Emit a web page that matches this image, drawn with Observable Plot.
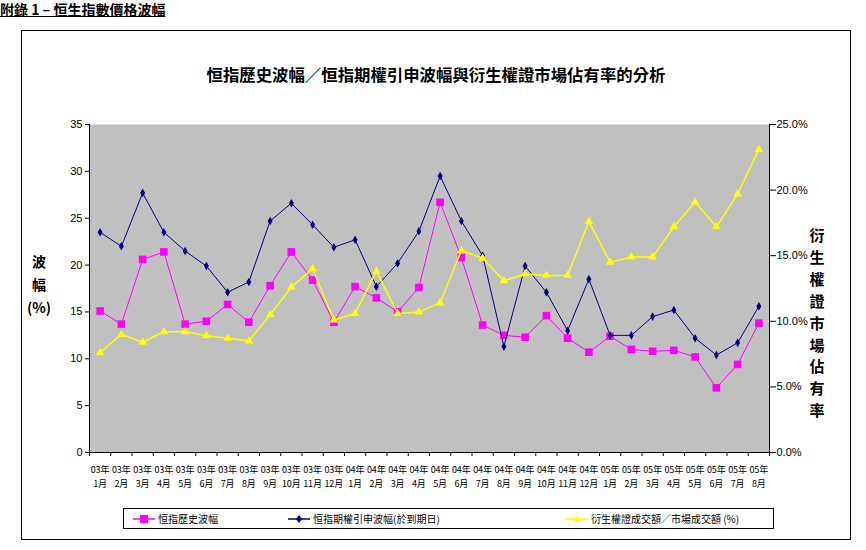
<!DOCTYPE html>
<html>
<head>
<meta charset="utf-8">
<script src="https://cdn.jsdelivr.net/npm/d3@7"></script>
<script src="https://cdn.jsdelivr.net/npm/@observablehq/plot@0.6"></script>
<style>
  html, body { margin: 0; padding: 0; background: #fff; }
  body { width: 866px; height: 550px; position: relative; overflow: hidden; font-family: "Noto Sans CJK TC", sans-serif; color: #000; }
  #frame { position: absolute; left: 21px; top: 30px; width: 828px; height: 508px; border: 1px solid #000; box-sizing: content-box; }
  #chart { position: absolute; left: 0; top: 0; }
  #toptitle { position: absolute; left: 0; top: 1px; font-size: 14px; font-weight: bold; text-decoration: underline; line-height: 16px; letter-spacing: 0px; }
  #title { position: absolute; left: 21px; width: 830px; top: 63px; text-align: center; font-size: 16.4px; font-weight: bold; line-height: 22px; }
  #ylab { position: absolute; left: 22px; width: 34px; top: 250px; text-align: center; font-size: 14px; font-weight: bold; line-height: 23px; }
  #ylab2 { position: absolute; left: 805px; width: 24px; top: 224px; text-align: center; font-size: 15px; font-weight: bold; line-height: 21.9px; }
  #legend { position: absolute; left: 123px; top: 508px; width: 649px; height: 19px; border: 1px solid #000; background: #fff; font-size: 10px; }
  .item { position: absolute; top: 0; height: 19px; display: flex; align-items: center; }
  .item span { margin-left: 3px; line-height: 19px; }
</style>
</head>
<body>
<div id="frame"></div>
<div id="toptitle">附錄 1 – 恒生指數價格波幅</div>
<div id="title">恒指歷史波幅／恒指期權引申波幅與衍生權證市場佔有率的分析</div>
<div id="ylab">波<br>幅<br>(%)</div>
<div id="ylab2">衍<br>生<br>權<br>證<br>市<br>場<br>佔<br>有<br>率</div>
<div id="chart"></div>
<div id="legend">
  <div class="item" style="left:9px"><svg width="22" height="10"><line x1="0" x2="22" y1="5" y2="5" stroke="#ff00ff" stroke-width="1.5"/><rect x="7" y="1" width="8" height="8" fill="#ff00ff"/></svg><span>恒指歷史波幅</span></div>
  <div class="item" style="left:164px"><svg width="22" height="10"><line x1="0" x2="22" y1="5" y2="5" stroke="#000080" stroke-width="1.5"/><path d="M11,1 L14,5 L11,9 L8,5 Z" fill="#000080"/></svg><span>恒指期權引申波幅(於到期日)</span></div>
  <div class="item" style="left:442px"><svg width="22" height="10"><line x1="0" x2="22" y1="5" y2="5" stroke="#ffff00" stroke-width="1.5"/><path d="M11,1 L15,8 L7,8 Z" fill="#ffff00"/></svg><span>衍生權證成交額／市場成交額 (%)</span></div>
</div>
<script>
// Categories (year / month)
const categories = [
  "03年\n1月","03年\n2月","03年\n3月","03年\n4月","03年\n5月","03年\n6月","03年\n7月","03年\n8月",
  "03年\n9月","03年\n10月","03年\n11月","03年\n12月",
  "04年\n1月","04年\n2月","04年\n3月","04年\n4月","04年\n5月","04年\n6月","04年\n7月","04年\n8月",
  "04年\n9月","04年\n10月","04年\n11月","04年\n12月",
  "05年\n1月","05年\n2月","05年\n3月","05年\n4月","05年\n5月","05年\n6月","05年\n7月","05年\n8月"
];
// 恒指歷史波幅 (left axis, %)
const histVol = [15.1, 13.7, 20.6, 21.4, 13.7, 14.0, 15.8, 13.9, 17.8, 21.4, 18.4, 13.9,
                 17.7, 16.5, 15.0, 17.6, 26.7, 20.8, 13.6, 12.5, 12.3, 14.6, 12.2, 10.7,
                 12.4, 11.0, 10.8, 10.9, 10.2, 6.9, 9.4, 13.8];
// 恒指期權引申波幅(於到期日) (left axis, %)
const impliedVol = [23.5, 22.0, 27.7, 23.5, 21.5, 19.9, 17.1, 18.2, 24.7, 26.6, 24.3, 21.9,
                    22.7, 17.7, 20.2, 23.6, 29.5, 24.7, 21.0, 11.3, 19.9, 17.1, 13.0, 18.5,
                    12.5, 12.5, 14.5, 15.2, 12.2, 10.4, 11.7, 15.6];
// 衍生權證成交額／市場成交額 (right axis, %)
const warrantShare = [7.6, 9.0, 8.4, 9.2, 9.2, 8.9, 8.7, 8.5, 10.5, 12.6, 14.0, 10.1,
                      10.6, 13.8, 10.6, 10.7, 11.4, 15.4, 14.8, 13.1, 13.6, 13.5, 13.5, 17.6,
                      14.5, 14.9, 14.9, 17.2, 19.1, 17.2, 19.7, 23.1];
const leftTicks = [0, 5, 10, 15, 20, 25, 30, 35];
const rightTicks = [0, 5, 10, 15, 20, 25];

const leftMax = 35, rightMax = 25, k = leftMax / rightMax;
const n = categories.length;
const hist = histVol.map((v, i) => ({x: i + 0.5, v}));
const impl = impliedVol.map((v, i) => ({x: i + 0.5, v}));
const warr = warrantShare.map((v, i) => ({x: i + 0.5, v: v * k}));

const tickFont = "Liberation Sans, Arial, sans-serif";

const chart = Plot.plot({
  width: 866,
  height: 550,
  marginLeft: 89,
  marginRight: 97,
  marginTop: 124,
  marginBottom: 98,
  style: {background: "transparent", overflow: "visible"},
  x: {domain: [0, n]},
  y: {domain: [0, leftMax]},
  marks: [
    Plot.frame({fill: "#c0c0c0", stroke: null}),
    Plot.ruleX([0, n], {stroke: "#000"}),
    Plot.ruleY([0], {stroke: "#000"}),
    Plot.axisY({ticks: leftTicks, tickSize: 4, tickPadding: 3, fontSize: 11, fontFamily: tickFont, label: null, color: "#000"}),
    Plot.axisY({anchor: "right", ticks: rightTicks.map(t => t * k), tickSize: 6, tickPadding: 1,
      tickFormat: d => (d / k).toFixed(1) + "%", fontSize: 11, fontFamily: tickFont, label: null}),
    Plot.axisX({ticks: d3.range(n + 1), tickSize: 4, tickFormat: () => "", label: null}),
    Plot.axisX({ticks: d3.range(n).map(i => i + 0.5), tickSize: 0, tickPadding: 11,
      tickFormat: d => categories[Math.floor(d)], fontSize: 9, lineHeight: 1.5,
      fontFamily: "Noto Sans CJK TC, sans-serif", label: null}),
    Plot.line(hist, {x: "x", y: "v", stroke: "#ff00ff", strokeWidth: 1}),
    Plot.dot(hist, {x: "x", y: "v", symbol: "square", r: 4.3, fill: "#ff00ff", stroke: null}),
    Plot.line(impl, {x: "x", y: "v", stroke: "#000080", strokeWidth: 1}),
    Plot.dot(impl, {x: "x", y: "v", symbol: "diamond", r: 2.6, fill: "#000080", stroke: null}),
    Plot.line(warr, {x: "x", y: "v", stroke: "#ffff00", strokeWidth: 1.5}),
    Plot.dot(warr, {x: "x", y: "v", symbol: "triangle", r: 3.2, fill: "#ffff00", stroke: null})
  ]
});
document.getElementById("chart").appendChild(chart);
</script>
</body>
</html>
